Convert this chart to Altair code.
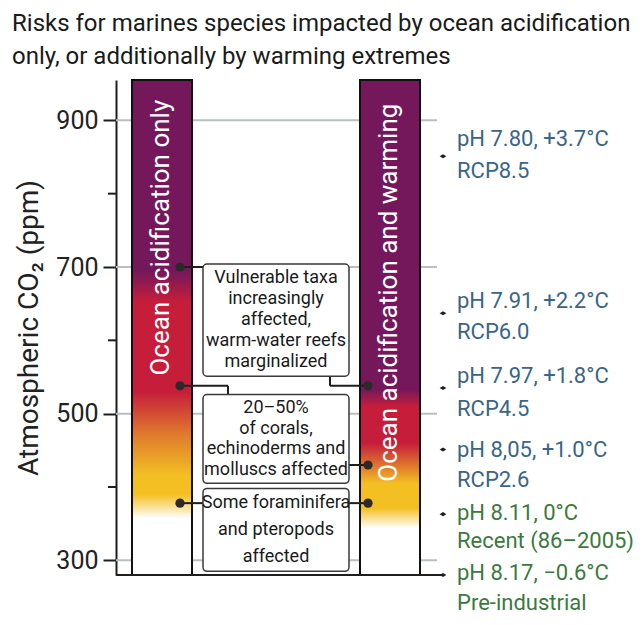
import altair as alt
import pandas as pd

# ---------------- data ----------------
TITLE_LINES = ["Risks for marines species impacted by ocean acidification",
               "only, or additionally by warming extremes"]
Y_TITLE = "Atmospheric CO₂ (ppm)"
PPM_DOMAIN = [280, 955]
Y_TICKS = [300, 500, 700, 900]
Y_MINOR_TICKS = [400, 600, 800]
GRID_VALUES = [300, 500, 700, 900]

BAR_NAMES = ["Ocean acidification only", "Ocean acidification and warming"]

WHITE, YELLOW, ORANGE, RED, PURPLE = "#ffffff", "#f3bf23", "#e07d2c", "#c61d3b", "#74185b"
LEFT_STOP_PPM = [280, 357, 390, 415, 470, 530, 653, 694, 955]
LEFT_STOP_COLORS = [WHITE, WHITE, YELLOW, YELLOW, ORANGE, RED, RED, PURPLE, PURPLE]
RIGHT_STOP_PPM = [280, 344, 371, 405, 427, 460, 510, 533, 955]
RIGHT_STOP_COLORS = [WHITE, WHITE, YELLOW, YELLOW, ORANGE, RED, RED, PURPLE, PURPLE]

RISK_TEXTS = [
    ["Vulnerable taxa", "increasingly", "affected,", "warm-water reefs", "marginalized"],
    ["20–50%", "of corals,", "echinoderms and", "molluscs affected"],
    ["Some foraminifera", "and pteropods", "affected"],
]
RISK_PPM_ACID = [700, 538, 378]   # dots on the acidification-only bar
RISK_PPM_WARM = [538, 430, 378]   # dots on the acidification + warming bar

SCENARIO_PPM = [851, 637, 535, 451, 363, 280]
SCENARIO_PH = ["pH 7.80, +3.7°C", "pH 7.91, +2.2°C", "pH 7.97, +1.8°C",
               "pH 8,05, +1.0°C", "pH 8.11, 0°C", "pH 8.17, −0.6°C"]
SCENARIO_NAME = ["RCP8.5", "RCP6.0", "RCP4.5", "RCP2.6", "Recent (86–2005)", "Pre-industrial"]
SCENARIO_GROUP = ["projection", "projection", "projection", "projection", "observed", "observed"]

# ---------------- layout / style ----------------
FONT = "Roboto"
W, H = 511, 495
PADDING = {"left": 108, "top": 72, "right": 8, "bottom": 40}
PX_PER_PPM = H / (PPM_DOMAIN[1] - PPM_DOMAIN[0])
L = dict(left_bar=(16, 76), right_bar=(244, 304), box=(87, 233), dot_left=64, dot_right=252,
         grid_end=321, marker_x=327, label_x=341, box2_elbow=112, box1_elbow=214, minor_tick=-8)
BOX_PPM = [(704, 551), (526, 405), (398, 285)]
BOX_LINE_HEIGHT = [21, 20.5, 27]
BAR_TEXT_PPM = [740, 665]
LINE1_DY_PX = [-17, -12, -12, 0, -1, -2]
LINE2_DY_PX = [15, 19, 21, 30, 27, 28]
INK = "#1e1e1e"
BLUE, GREEN = "#3a6587", "#3b7a3c"

xs = alt.Scale(domain=[0, W], nice=False, zero=False)
ys = alt.Scale(domain=PPM_DOMAIN, nice=False, zero=False)
Y_AXIS = alt.Axis(values=Y_TICKS, title=Y_TITLE, grid=False,
                  tickSize=13, tickWidth=2, tickColor=INK,
                  domainColor=INK, domainWidth=2,
                  labelFont=FONT, labelFontSize=25, labelColor="#222",
                  labelPadding=5, titleFont=FONT, titleFontSize=28,
                  titleFontWeight="normal", titleColor="#222", titlePadding=12)


def X(f):
    return alt.X(f, type="quantitative", scale=xs, axis=None)


def Y(f):
    return alt.Y(f, type="quantitative", scale=ys, axis=Y_AXIS)


# grid + y axis
grid_df = pd.DataFrame({"ppm": GRID_VALUES, "x0": 0, "x1": L["grid_end"]})
grid = alt.Chart(grid_df).mark_rule(color="#b8bfc3", strokeWidth=2).encode(
    x=X("x0"), x2="x1", y=Y("ppm"))

minor_df = pd.DataFrame({"ppm": Y_MINOR_TICKS, "x0": L["minor_tick"], "x1": 0})
minor = alt.Chart(minor_df).mark_rule(color=INK, strokeWidth=2).encode(
    x=X("x0"), x2="x1", y=Y("ppm"))


def bar(name, xr, stop_ppm, stop_colors):
    span = PPM_DOMAIN[1] - PPM_DOMAIN[0]
    stops = [alt.GradientStop(offset=(p - PPM_DOMAIN[0]) / span, color=c)
             for p, c in zip(stop_ppm, stop_colors)]
    df = pd.DataFrame({"bar": [name], "x0": [xr[0]], "x1": [xr[1]],
                       "y0": [PPM_DOMAIN[0]], "y1": [PPM_DOMAIN[1]]})
    return alt.Chart(df).mark_rect(
        fill=alt.Gradient(gradient="linear", stops=stops, x1=0, x2=0, y1=1, y2=0),
        stroke="#111", strokeWidth=2).encode(x=X("x0"), x2="x1", y=Y("y0"), y2="y1")


bar_left = bar(BAR_NAMES[0], L["left_bar"], LEFT_STOP_PPM, LEFT_STOP_COLORS)
bar_right = bar(BAR_NAMES[1], L["right_bar"], RIGHT_STOP_PPM, RIGHT_STOP_COLORS)

bar_text_df = pd.DataFrame({
    "label": BAR_NAMES,
    "x": [(L["left_bar"][0] + L["left_bar"][1]) / 2, (L["right_bar"][0] + L["right_bar"][1]) / 2],
    "ppm": BAR_TEXT_PPM})
bar_text = alt.Chart(bar_text_df).mark_text(
    angle=270, font=FONT, fontSize=26, color="white", align="center", baseline="middle", dy=-1
).encode(x=X("x"), y=Y("ppm"), text="label:N")

# connectors
b1, b2, b3 = BOX_PPM
segs = [
    (L["dot_left"], RISK_PPM_ACID[0], L["box"][0], RISK_PPM_ACID[0]),
    (L["dot_left"], RISK_PPM_ACID[1], L["box2_elbow"], RISK_PPM_ACID[1]),
    (L["box2_elbow"], RISK_PPM_ACID[1], L["box2_elbow"], b2[0]),
    (L["dot_left"], RISK_PPM_ACID[2], L["box"][0], RISK_PPM_ACID[2]),
    (L["box1_elbow"], b1[1], L["box1_elbow"], RISK_PPM_WARM[0]),
    (L["box1_elbow"], RISK_PPM_WARM[0], L["dot_right"], RISK_PPM_WARM[0]),
    (L["box"][1], RISK_PPM_WARM[1], L["dot_right"], RISK_PPM_WARM[1]),
    (L["box"][1], RISK_PPM_WARM[2], L["dot_right"], RISK_PPM_WARM[2]),
]
seg_df = pd.DataFrame(segs, columns=["x0", "y0", "x1", "y1"])
connectors = alt.Chart(seg_df).mark_rule(color=INK, strokeWidth=2).encode(
    x=X("x0"), x2="x1", y=Y("y0"), y2="y1")

box_df = pd.DataFrame({"x0": L["box"][0], "x1": L["box"][1],
                       "top": [b[0] for b in BOX_PPM], "bottom": [b[1] for b in BOX_PPM]})
boxes = alt.Chart(box_df).mark_rect(fill="white", stroke="#3a3a3a", strokeWidth=1.5,
                                    cornerRadius=4).encode(
    x=X("x0"), x2="x1", y=Y("top"), y2="bottom")

rows = []
for i, lines in enumerate(RISK_TEXTS):
    center = (BOX_PPM[i][0] + BOX_PPM[i][1]) / 2
    n = len(lines)
    for k, line in enumerate(lines):
        off_px = (k - (n - 1) / 2) * BOX_LINE_HEIGHT[i]
        rows.append({"x": (L["box"][0] + L["box"][1]) / 2,
                     "ppm": center - off_px / PX_PER_PPM, "text": line})
box_text = alt.Chart(pd.DataFrame(rows)).mark_text(
    font=FONT, fontSize=18, color="#1a1a1a", align="center", baseline="middle"
).encode(x=X("x"), y=Y("ppm"), text="text:N")

dot_df = pd.DataFrame({"x": [L["dot_left"]] * 3 + [L["dot_right"]] * 3,
                       "ppm": RISK_PPM_ACID + RISK_PPM_WARM})
dots = alt.Chart(dot_df).mark_circle(size=85, color="#2a2a2a", opacity=1).encode(
    x=X("x"), y=Y("ppm"))

bottom_df = pd.DataFrame({"x0": [0], "x1": [L["marker_x"]], "ppm": [PPM_DOMAIN[0]]})
bottom = alt.Chart(bottom_df).mark_rule(color=INK, strokeWidth=2).encode(
    x=X("x0"), x2="x1", y=Y("ppm"))

scen_df = pd.DataFrame({
    "x": L["marker_x"], "ppm": SCENARIO_PPM, "ph": SCENARIO_PH, "name": SCENARIO_NAME,
    "group": SCENARIO_GROUP,
    "ppm1": [p + (-d) / PX_PER_PPM for p, d in zip(SCENARIO_PPM, LINE1_DY_PX)],
    "ppm2": [p + (-d) / PX_PER_PPM for p, d in zip(SCENARIO_PPM, LINE2_DY_PX)],
    "lx": L["label_x"]})
color_scale = alt.Scale(domain=["projection", "observed"], range=[BLUE, GREEN])
markers = alt.Chart(scen_df).mark_point(
    shape="M-1,0L0,-0.6L1,0L0,0.6Z", filled=True, size=45, color=INK, opacity=1).encode(
    x=X("x"), y=Y("ppm"))
lab1 = alt.Chart(scen_df).mark_text(font=FONT, fontSize=22, align="left", baseline="middle").encode(
    x=X("lx"), y=Y("ppm1"), text="ph:N",
    color=alt.Color("group:N", scale=color_scale, legend=None))
lab2 = alt.Chart(scen_df).mark_text(font=FONT, fontSize=22, align="left", baseline="middle").encode(
    x=X("lx"), y=Y("ppm2"), text="name:N",
    color=alt.Color("group:N", scale=color_scale, legend=None))

chart = alt.layer(
    grid, minor, bar_left, bar_right, bar_text, connectors, boxes, box_text,
    dots, bottom, markers, lab1, lab2
).properties(
    width=W, height=H,
    title=alt.TitleParams(text=TITLE_LINES, anchor="start", frame="group", dx=-104,
                          offset=10, font=FONT, fontSize=24, fontWeight="normal",
                          color="#1a1a1a", lineHeight=33),
    autosize=alt.AutoSizeParams(type="none"),
    padding=PADDING,
).configure_view(stroke=None)

chart.save("out.html", embed_options={"renderer": "svg", "actions": False})
